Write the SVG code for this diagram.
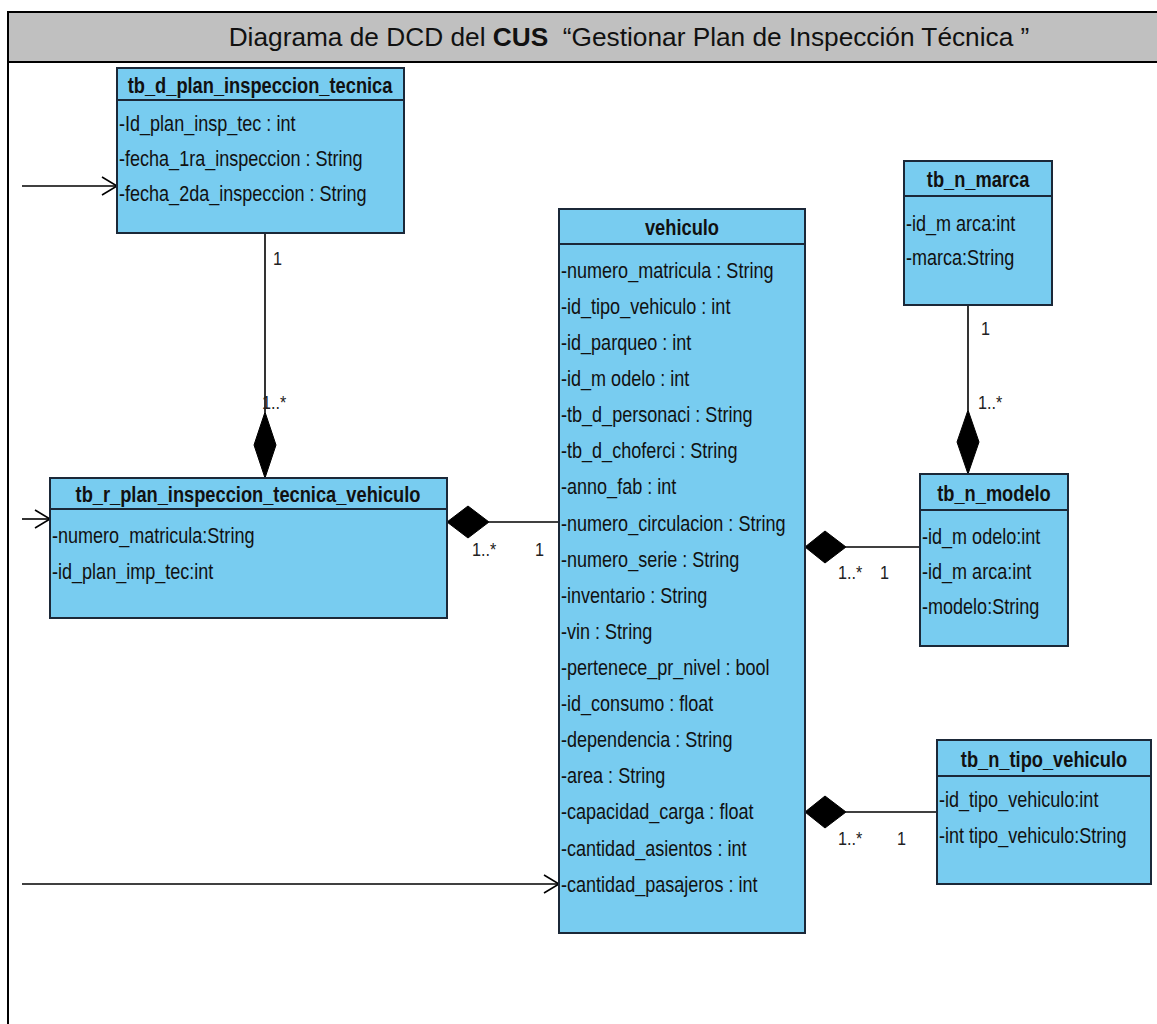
<svg xmlns="http://www.w3.org/2000/svg" width="1157" height="1024" viewBox="0 0 1157 1024">
  <style>
    .frame { fill: none; stroke: #000; stroke-width: 2; }
    .band { fill: #c0c0c0; stroke: #000; stroke-width: 2; }
    .title { font-family: "Liberation Sans", Arial, sans-serif; font-size: 26px; fill: #111; text-anchor: middle; white-space: pre;
             transform-box: fill-box; transform-origin: center; transform: scaleX(1.01); }
    .box { fill: #78ccf0; stroke: #1b2838; stroke-width: 2; }
    .sep { stroke: #1b2838; stroke-width: 2; }
    .hd { font-family: "Liberation Sans", Arial, sans-serif; font-size: 22px; font-weight: bold; fill: #111; text-anchor: middle;
          transform-box: fill-box; transform-origin: center; transform: scaleX(0.83); }
    .at { font-family: "Liberation Sans", Arial, sans-serif; font-size: 22px; fill: #111;
          transform-box: fill-box; transform-origin: left center; transform: scaleX(0.82); }
    .ln { fill: none; stroke: #000; stroke-width: 1.6; }
    .dia { fill: #000; stroke: #000; stroke-width: 1; }
    .ml { font-family: "Liberation Sans", Arial, sans-serif; font-size: 19px; fill: #222;
          transform-box: fill-box; transform-origin: left center; transform: scaleX(0.85); }
  </style>
  <defs>
    <marker id="open" markerUnits="userSpaceOnUse" markerWidth="20" markerHeight="24" refX="16" refY="10" orient="auto">
      <path d="M1,1 L16,10 L1,19" fill="none" stroke="#000" stroke-width="1.6"/>
    </marker>
  </defs>

  <!-- outer frame with title band -->
  <g id="frame">
    <path class="frame" d="M8,1030 V12 H1170"/>
    <rect class="band" x="8" y="12" width="1162" height="50"/>
    <text class="title" x="629" y="46">Diagrama de DCD del <tspan font-weight="bold">CUS</tspan>  “Gestionar Plan de Inspección Técnica ”</text>
  </g>

  <!-- connectors -->
  <g id="connectors">
    <!-- incoming navigations from the left -->
    <line class="ln" x1="22" y1="186" x2="117" y2="186" marker-end="url(#open)"/>
    <line class="ln" x1="22" y1="519" x2="50" y2="519" marker-end="url(#open)"/>
    <line class="ln" x1="22" y1="884" x2="559" y2="884" marker-end="url(#open)"/>

    <!-- plan -> plan_vehiculo (composition) -->
    <line class="ln" x1="265" y1="233" x2="265" y2="412"/>
    <polygon class="dia" points="265,412 276,445 265,478 254,445"/>
    <text class="ml" x="273" y="265">1</text>
    <text class="ml" x="262" y="409">1..*</text>

    <!-- plan_vehiculo <- vehiculo (composition) -->
    <line class="ln" x1="489" y1="522" x2="559" y2="522"/>
    <polygon class="dia" points="447,522 468,506 489,522 468,538"/>
    <text class="ml" x="472" y="556">1..*</text>
    <text class="ml" x="535" y="556">1</text>

    <!-- marca -> modelo (composition) -->
    <line class="ln" x1="968" y1="305" x2="968" y2="410"/>
    <polygon class="dia" points="968,410 979,442 968,474 957,442"/>
    <text class="ml" x="981" y="335">1</text>
    <text class="ml" x="978" y="409">1..*</text>

    <!-- vehiculo <- modelo (composition) -->
    <line class="ln" x1="846" y1="547" x2="920" y2="547"/>
    <polygon class="dia" points="805,547 825,531 846,547 825,563"/>
    <text class="ml" x="838" y="579">1..*</text>
    <text class="ml" x="880" y="579">1</text>

    <!-- vehiculo <- tipo_vehiculo (composition) -->
    <line class="ln" x1="846" y1="812" x2="937" y2="812"/>
    <polygon class="dia" points="805,812 825,796 846,812 825,828"/>
    <text class="ml" x="838" y="845">1..*</text>
    <text class="ml" x="897" y="845">1</text>
  </g>

  <!-- classes -->
  <g id="tb_d_plan_inspeccion_tecnica">
    <rect class="box" x="117" y="68" width="287" height="165"/>
    <line class="sep" x1="117" y1="100" x2="404" y2="100"/>
    <text class="hd" x="260" y="93">tb_d_plan_inspeccion_tecnica</text>
    <text class="at" x="119" y="131">-Id_plan_insp_tec : int</text>
    <text class="at" x="119" y="166">-fecha_1ra_inspeccion : String</text>
    <text class="at" x="119" y="201">-fecha_2da_inspeccion : String</text>
  </g>

  <g id="tb_r_plan_inspeccion_tecnica_vehiculo">
    <rect class="box" x="50" y="478" width="397" height="140"/>
    <line class="sep" x1="50" y1="509" x2="447" y2="509"/>
    <text class="hd" x="248" y="502">tb_r_plan_inspeccion_tecnica_vehiculo</text>
    <text class="at" x="52" y="543">-numero_matricula:String</text>
    <text class="at" x="52" y="579">-id_plan_imp_tec:int</text>
  </g>

  <g id="vehiculo">
    <rect class="box" x="559" y="209" width="246" height="724"/>
    <line class="sep" x1="559" y1="244" x2="805" y2="244"/>
    <text class="hd" x="682" y="235">vehiculo</text>
    <text class="at" x="561" y="278">-numero_matricula : String</text>
    <text class="at" x="561" y="314">-id_tipo_vehiculo : int</text>
    <text class="at" x="561" y="350">-id_parqueo : int</text>
    <text class="at" x="561" y="386">-id_m odelo : int</text>
    <text class="at" x="561" y="422">-tb_d_personaci : String</text>
    <text class="at" x="561" y="458">-tb_d_choferci : String</text>
    <text class="at" x="561" y="494">-anno_fab : int</text>
    <text class="at" x="561" y="531">-numero_circulacion : String</text>
    <text class="at" x="561" y="567">-numero_serie : String</text>
    <text class="at" x="561" y="603">-inventario : String</text>
    <text class="at" x="561" y="639">-vin : String</text>
    <text class="at" x="561" y="675">-pertenece_pr_nivel : bool</text>
    <text class="at" x="561" y="711">-id_consumo : float</text>
    <text class="at" x="561" y="747">-dependencia : String</text>
    <text class="at" x="561" y="783">-area : String</text>
    <text class="at" x="561" y="819">-capacidad_carga : float</text>
    <text class="at" x="561" y="856">-cantidad_asientos : int</text>
    <text class="at" x="561" y="892">-cantidad_pasajeros : int</text>
  </g>

  <g id="tb_n_marca">
    <rect class="box" x="904" y="161" width="148" height="144"/>
    <line class="sep" x1="904" y1="196" x2="1052" y2="196"/>
    <text class="hd" x="978" y="187">tb_n_marca</text>
    <text class="at" x="906" y="231">-id_m arca:int</text>
    <text class="at" x="906" y="265">-marca:String</text>
  </g>

  <g id="tb_n_modelo">
    <rect class="box" x="920" y="474" width="148" height="172"/>
    <line class="sep" x1="920" y1="510" x2="1068" y2="510"/>
    <text class="hd" x="994" y="501">tb_n_modelo</text>
    <text class="at" x="922" y="544">-id_m odelo:int</text>
    <text class="at" x="922" y="579">-id_m arca:int</text>
    <text class="at" x="922" y="614">-modelo:String</text>
  </g>

  <g id="tb_n_tipo_vehiculo">
    <rect class="box" x="937" y="740" width="214" height="144"/>
    <line class="sep" x1="937" y1="776" x2="1151" y2="776"/>
    <text class="hd" x="1044" y="767">tb_n_tipo_vehiculo</text>
    <text class="at" x="939" y="807">-id_tipo_vehiculo:int</text>
    <text class="at" x="939" y="843">-int tipo_vehiculo:String</text>
  </g>
</svg>
